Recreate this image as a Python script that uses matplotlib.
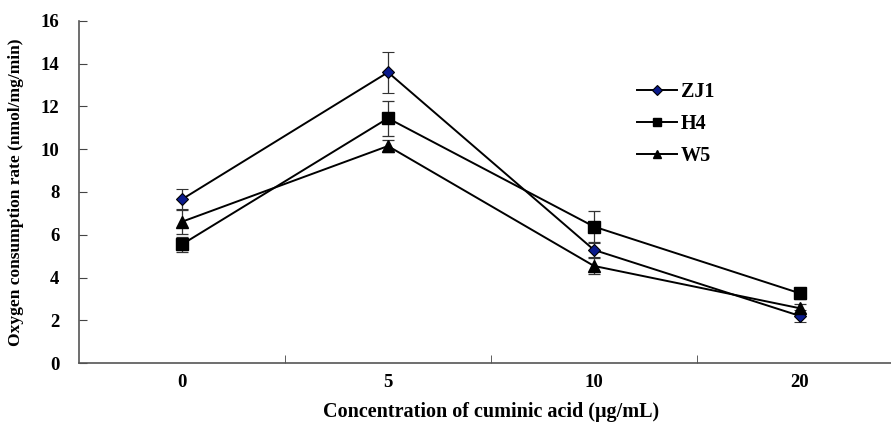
import numpy as np
import matplotlib
matplotlib.use("Agg")
import matplotlib.pyplot as plt
from matplotlib.lines import Line2D

plt.rcParams['font.family'] = ['Liberation Serif', 'DejaVu Serif']
plt.rcParams['font.weight'] = 'bold'

categories = ['0', '5', '10', '20']
zj1 = [7.66, 13.6, 5.29, 2.2]
zj1_err = [0.47, 0.95, 0.32, 0.27]
h4 = [5.55, 11.45, 6.38, 3.26]
h4_err = [0.34, 0.83, 0.73, 0.26]
w5 = [6.61, 10.15, 4.54, 2.56]
w5_err = [0.56, 0.27, 0.37, 0.2]

x = np.arange(len(categories))

fig = plt.figure(figsize=(8.91, 4.22), dpi=100)
ax = fig.add_axes([79 / 891, 59 / 422, 824 / 891, 342 / 422])

common = dict(color='black', lw=1.4, capsize=4, elinewidth=0.9,
              ecolor='#333333', capthick=0.9, mec='black')
styles = [
    ('ZJ1', zj1, zj1_err, dict(marker='D', ms=6, mfc='#0a1a8c', mew=0.8)),
    ('H4', h4, h4_err, dict(marker='s', ms=8, mfc='black')),
    ('W5', w5, w5_err, dict(marker='^', ms=8, mfc='black')),
]
handles = []
for name, vals, err, mk in styles:
    ax.errorbar(x, vals, yerr=err, **mk, **common)
    handles.append(Line2D([], [], color='black', lw=1.4, mec='black', **mk))

ax.set_xlim(-0.5, 3.5)
ax.set_ylim(0, 16)
ax.set_yticks(range(0, 17, 2))
ax.set_xticks(x)
ax.set_xticklabels(categories)
ax.set_xticks([0.5, 1.5, 2.5], minor=True)
ax.tick_params(axis='x', which='major', length=0, pad=8, labelsize=13.5)
ax.tick_params(axis='x', which='minor', direction='in', length=6, color='#444444')
ax.tick_params(axis='y', direction='in', length=6, labelsize=13.5, pad=14, color='#444444')
for lab in ax.get_xticklabels() + ax.get_yticklabels():
    lab.set_fontweight('bold')

for s in ['top', 'right']:
    ax.spines[s].set_visible(False)
for s in ['left', 'bottom']:
    ax.spines[s].set_color('#555555')
    ax.spines[s].set_linewidth(1.2)

ax.set_xlabel('Concentration of cuminic acid (μg/mL)', fontsize=14.5,
              fontweight='bold', labelpad=8)
ax.set_ylabel('Oxygen consumption rate (nmol/mg/min)', fontsize=12.5,
              fontweight='bold', labelpad=12)

leg = ax.legend(handles, [s[0] for s in styles], loc='upper left',
                bbox_to_anchor=(0.677, 0.822), frameon=False, borderpad=0,
                borderaxespad=0, fontsize=14.5, handlelength=2.0,
                handletextpad=0.2, labelspacing=0.6, markerscale=0.8)
for t in leg.get_texts():
    t.set_fontweight('bold')

fig.savefig('out.png', dpi=100)
